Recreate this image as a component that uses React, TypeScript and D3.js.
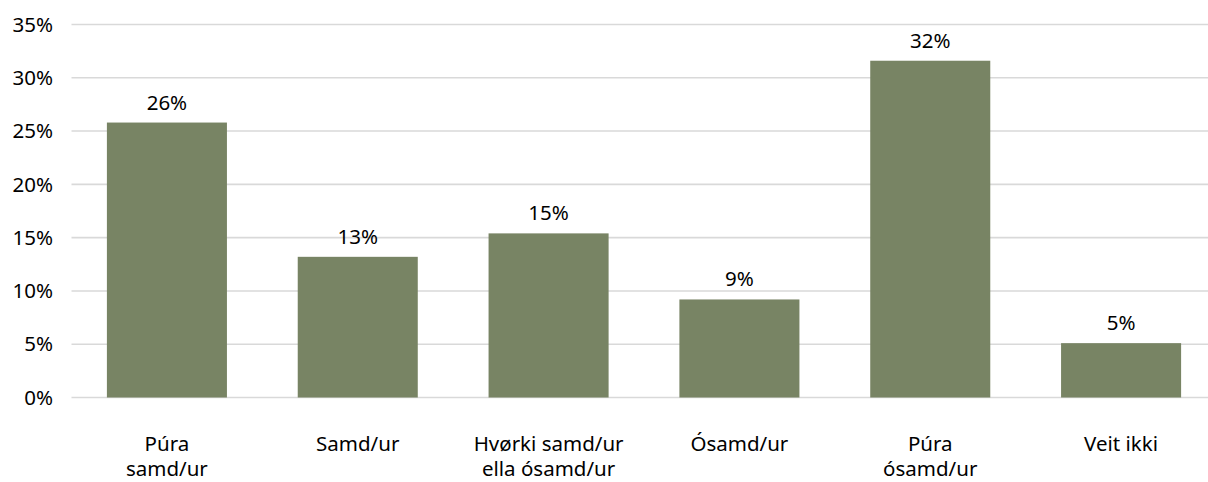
import React, { useEffect, useRef } from "react";
import * as d3 from "d3";

const categories = [
  ["Púra", "samd/ur"],
  ["Samd/ur"],
  ["Hvørki samd/ur", "ella ósamd/ur"],
  ["Ósamd/ur"],
  ["Púra", "ósamd/ur"],
  ["Veit ikki"],
];
const values = [25.8, 13.2, 15.4, 9.2, 31.6, 5.1];
const valueLabels = ["26%", "13%", "15%", "9%", "32%", "5%"];
const yTicks = [0, 5, 10, 15, 20, 25, 30, 35];

const W = 1208;
const H = 482;
const FONT = "'Noto Sans', sans-serif";
const FS = 20.5;

const App = () => {
  const ref = useRef<SVGSVGElement>(null);

  useEffect(() => {
    const svg = d3.select(ref.current);
    svg.selectAll("*").remove();

    const x = d3
      .scaleBand()
      .domain(categories.map((c, i) => String(i)))
      .range([71.5, 1216.5])
      .paddingInner(0.371)
      .paddingOuter(0.1855);

    const y = d3.scaleLinear().domain([0, 35]).range([397.5, 24.5]);

    // gridlines
    svg
      .append("g")
      .selectAll("line")
      .data(yTicks)
      .join("line")
      .attr("x1", 71.5)
      .attr("x2", 1216.5)
      .attr("y1", (d) => y(d))
      .attr("y2", (d) => y(d))
      .attr("stroke", "#d9d9d9")
      .attr("stroke-width", 1.6);

    // y labels
    svg
      .append("g")
      .selectAll("text")
      .data(yTicks)
      .join("text")
      .attr("x", 53)
      .attr("y", (d) => y(d))
      .attr("dy", "0.35em")
      .attr("text-anchor", "end")
      .attr("font-family", FONT)
      .attr("font-size", FS)
      .attr("fill", "#000")
      .text((d) => `${d}%`);

    // bars
    svg
      .append("g")
      .selectAll("rect")
      .data(values)
      .join("rect")
      .attr("x", (d, i) => x(String(i)))
      .attr("y", (d) => y(d))
      .attr("width", x.bandwidth())
      .attr("height", (d) => y(0) - y(d))
      .attr("fill", "#788464");

    // value labels
    svg
      .append("g")
      .selectAll("text")
      .data(values)
      .join("text")
      .attr("x", (d, i) => x(String(i)) + x.bandwidth() / 2)
      .attr("y", (d) => y(d) - 13)
      .attr("text-anchor", "middle")
      .attr("font-family", FONT)
      .attr("font-size", FS)
      .attr("fill", "#000")
      .text((d, i) => valueLabels[i]);

    // category labels
    const cat = svg
      .append("g")
      .selectAll("text")
      .data(categories)
      .join("text")
      .attr("x", (d, i) => x(String(i)) + x.bandwidth() / 2)
      .attr("y", 451)
      .attr("text-anchor", "middle")
      .attr("font-family", FONT)
      .attr("font-size", FS)
      .attr("fill", "#000");

    cat
      .selectAll("tspan")
      .data((d) => d)
      .join("tspan")
      .attr("x", function () {
        return (this.parentNode as SVGTextElement).getAttribute("x");
      })
      .attr("dy", (d, i) => (i === 0 ? 0 : 25))
      .text((d) => d);
  }, []);

  return (
    <svg
      ref={ref}
      width={W}
      height={H}
      style={{ position: "absolute", left: 0, top: 0, background: "#fff" }}
    />
  );
};

export default App;
